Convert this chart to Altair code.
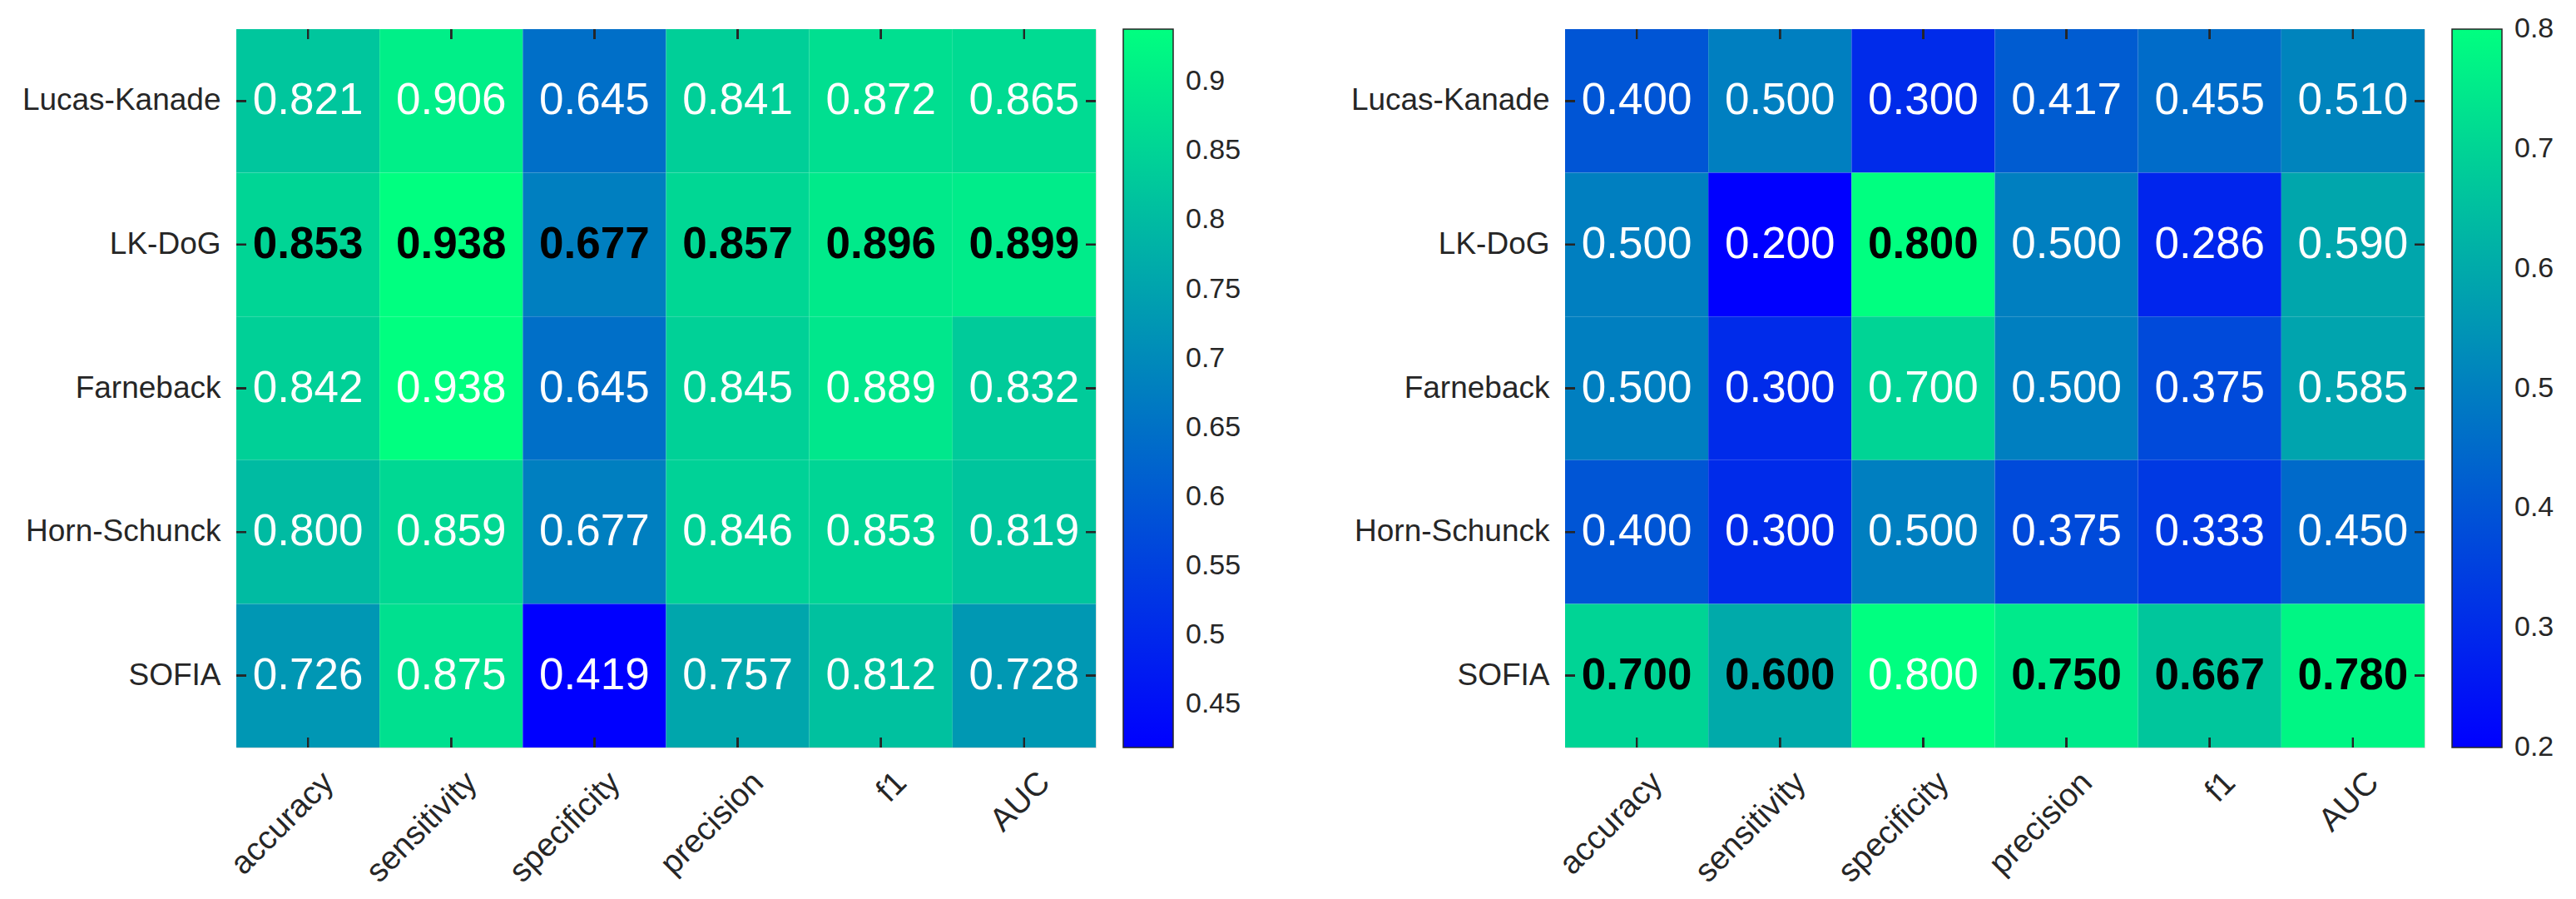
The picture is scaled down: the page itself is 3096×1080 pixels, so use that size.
import altair as alt
import pandas as pd

methods = ["Lucas-Kanade", "LK-DoG", "Farneback", "Horn-Schunck", "SOFIA"]
metrics = ["accuracy", "sensitivity", "specificity", "precision", "f1", "AUC"]

left_values = [
    [0.821, 0.906, 0.645, 0.841, 0.872, 0.865],
    [0.853, 0.938, 0.677, 0.857, 0.896, 0.899],
    [0.842, 0.938, 0.645, 0.845, 0.889, 0.832],
    [0.800, 0.859, 0.677, 0.846, 0.853, 0.819],
    [0.726, 0.875, 0.419, 0.757, 0.812, 0.728],
]
left_bold = [
    [0, 0, 0, 0, 0, 0],
    [1, 1, 1, 1, 1, 1],
    [0, 0, 0, 0, 0, 0],
    [0, 0, 0, 0, 0, 0],
    [0, 0, 0, 0, 0, 0],
]
left_ticks = [0.45, 0.5, 0.55, 0.6, 0.65, 0.7, 0.75, 0.8, 0.85, 0.9]

right_values = [
    [0.400, 0.500, 0.300, 0.417, 0.455, 0.510],
    [0.500, 0.200, 0.800, 0.500, 0.286, 0.590],
    [0.500, 0.300, 0.700, 0.500, 0.375, 0.585],
    [0.400, 0.300, 0.500, 0.375, 0.333, 0.450],
    [0.700, 0.600, 0.800, 0.750, 0.667, 0.780],
]
right_bold = [
    [0, 0, 0, 0, 0, 0],
    [0, 0, 1, 0, 0, 0],
    [0, 0, 0, 0, 0, 0],
    [0, 0, 0, 0, 0, 0],
    [1, 1, 0, 1, 1, 1],
]
right_ticks = [0.2, 0.3, 0.4, 0.5, 0.6, 0.7, 0.8]

FONT = "Liberation Sans"
INK = "#262626"
W = 1033
H = 863


def panel(values, bold, ticks):
    rows = []
    for i, m in enumerate(methods):
        for j, k in enumerate(metrics):
            rows.append({
                "method": m,
                "metric": k,
                "value": values[i][j],
                "label": f"{values[i][j]:.3f}",
                "bold": int(bold[i][j]),
            })
    df = pd.DataFrame(rows)
    flat = [v for r in values for v in r]
    domain = [min(flat) - 1e-6, max(flat) + 1e-6]

    x = alt.X("metric:N", sort=metrics, title=None,
              axis=alt.Axis(labelAngle=315, labelAlign="right", labelBaseline="top",
                            labelFontSize=39, labelFont=FONT, labelColor=INK, labelLimit=1000,
                            labelPadding=22, labelOffset=11, ticks=False, domain=False))
    y = alt.Y("method:N", sort=methods, title=None,
              axis=alt.Axis(labelFontSize=37, labelFont=FONT, labelColor=INK, labelLimit=1000,
                            labelPadding=19, ticks=False, domain=False))
    base = alt.Chart(df).encode(x=x, y=y)

    rect = base.mark_rect().encode(
        color=alt.Color(
            "value:Q", title=None,
            scale=alt.Scale(domain=domain, range=["#0000ff", "#00ff80"], interpolate="rgb"),
            legend=alt.Legend(orient="right", offset=33, gradientLength=H, gradientThickness=60,
                              values=ticks, format="~g", labelFontSize=34, labelFont=FONT,
                              labelColor=INK, labelOffset=15, labelOverlap=False,
                              labelBaseline="middle", gradientStrokeColor=INK,
                              gradientStrokeWidth=1.5, padding=0),
        )
    )
    text_n = base.transform_filter("datum.bold == 0").mark_text(
        font=FONT, fontSize=53, color="#ffffff").encode(text="label:N")
    text_b = base.transform_filter("datum.bold == 1").mark_text(
        font=FONT, fontSize=53, color="#000000", fontWeight="bold").encode(text="label:N")
    tick_b = base.mark_rule(color=INK, strokeWidth=2).encode(
        y=alt.value(H - 12), y2=alt.value(H))
    tick_t = base.mark_rule(color=INK, strokeWidth=2).encode(
        y=alt.value(0), y2=alt.value(12))
    tick_l = base.mark_rule(color=INK, strokeWidth=2).encode(
        x=alt.value(0), x2=alt.value(12))
    tick_r = base.mark_rule(color=INK, strokeWidth=2).encode(
        x=alt.value(W - 12), x2=alt.value(W))
    return alt.layer(rect, text_n, text_b, tick_b, tick_t, tick_l, tick_r).properties(width=W, height=H)


left = panel(left_values, left_bold, left_ticks)
right = panel(right_values, right_bold, right_ticks)

chart = alt.hconcat(left, right, spacing=129).resolve_scale(color="independent").properties(
    padding={"top": 25, "left": 17, "right": 5, "bottom": 5}
).configure_view(stroke=INK, strokeWidth=2).configure(background="white")

chart.save("out.html", embed_options={"renderer": "svg", "actions": False})
